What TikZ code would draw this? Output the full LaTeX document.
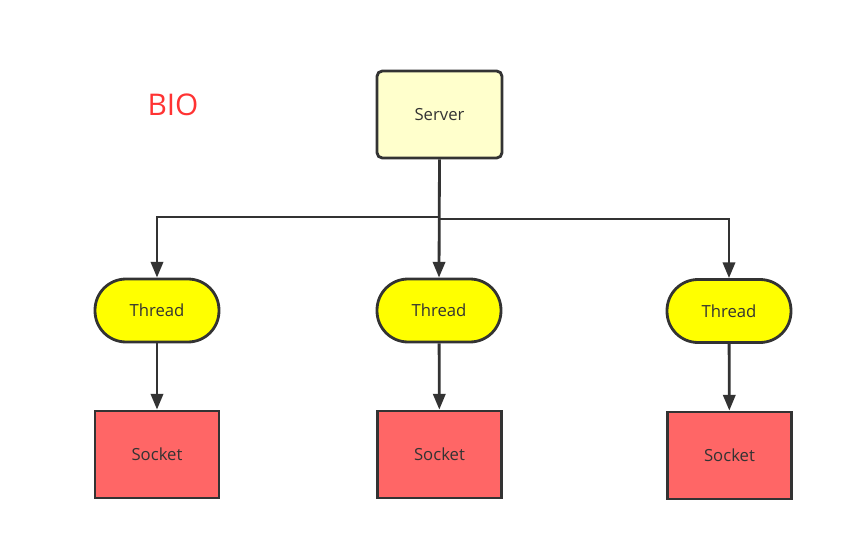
\documentclass[tikz,border=0pt]{standalone}
\usepackage{fontspec}
\setmainfont{Open Sans}
\usepackage{tikz}
\usetikzlibrary{arrows.meta,positioning}

\definecolor{linegray}{HTML}{333333}
\definecolor{serverfill}{HTML}{FFFFCC}
\definecolor{threadfill}{HTML}{FFFF00}
\definecolor{socketfill}{HTML}{FF6666}
\definecolor{biored}{HTML}{FF3333}

\begin{document}
\begin{tikzpicture}[x=0.02cm, y=-0.02cm, line width=1.6pt, draw=linegray,
  servernode/.style={rectangle, draw=linegray, fill=serverfill, rounded corners=3pt, minimum width=2.5cm, minimum height=1.74cm, text=linegray, font=\fontsize{9.5}{11}\selectfont},
  threadnode/.style={rectangle, draw=linegray, fill=threadfill, rounded corners=0.62cm, minimum width=2.48cm, minimum height=1.26cm, text=linegray, font=\fontsize{9.5}{11}\selectfont},
  socketnode/.style={rectangle, draw=linegray, fill=socketfill, minimum width=2.48cm, minimum height=1.74cm, text=linegray, font=\fontsize{9.5}{11}\selectfont},
  link/.style={draw=linegray, -{Triangle[width=7pt,length=9pt]}}]
  \useasboundingbox (0,0) rectangle (860,541);
  \node[text=biored, font=\fontsize{17}{20}\selectfont] (bio) at (173,105) {BIO};
  \node[servernode] (server) at (439.5,114.5) {Server};
  \node[threadnode] (thread1) at (157,310.5) {Thread};
  \node[threadnode] (thread2) at (439,310.5) {Thread};
  \node[threadnode] (thread3) at (729,311) {Thread};
  \node[socketnode] (socket1) at (157,454.5) {Socket};
  \node[socketnode] (socket2) at (439.5,454.5) {Socket};
  \node[socketnode] (socket3) at (729.5,455.5) {Socket};
  % server to threads
  \draw[link] (server.south) -- (thread2.north);
  \draw[link] (server.south |- 0,217) -| (thread1.north);
  \draw[link] (server.south |- 0,219) -| (thread3.north);
  % threads to sockets
  \draw[link] (thread1) -- (socket1);
  \draw[link] (thread2) -- (socket2);
  \draw[link] (thread3) -- (socket3);
\end{tikzpicture}
\end{document}
